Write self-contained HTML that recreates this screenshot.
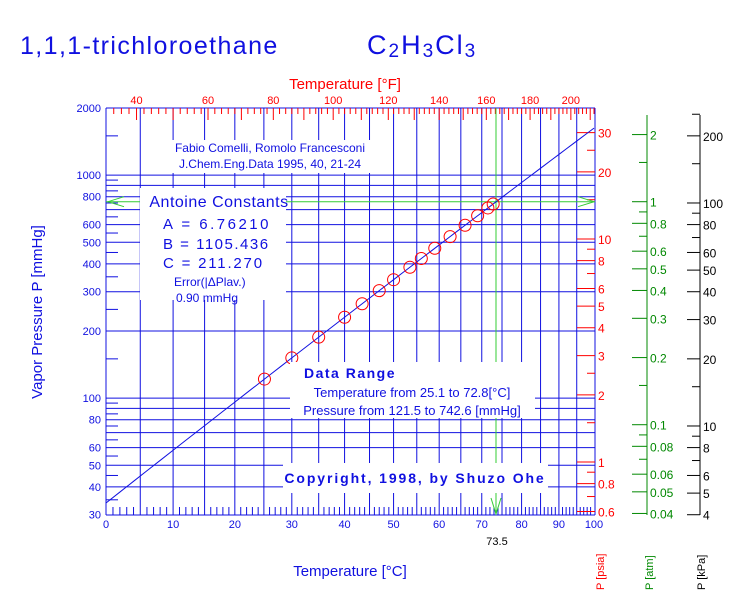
<!DOCTYPE html>
<html><head><meta charset="utf-8"><style>
body{margin:0;background:#fff}
svg{display:block;font-family:"Liberation Sans",sans-serif}
</style></head><body>
<svg id="s" width="744" height="615" xmlns="http://www.w3.org/2000/svg">
<g id="g"></g>
<g fill="#fff">
<rect x="165" y="140" width="210" height="33"/>
<rect x="140" y="188" width="146" height="112"/>
<rect x="290" y="362" width="245" height="56"/>
<rect x="283" y="463" width="265" height="30"/>
</g>
<g id="txt" fill="#1010e0">
<text x="20" y="54" font-size="25" letter-spacing="1.4">1,1,1-trichloroethane</text>
<text x="367" y="54" font-size="27" letter-spacing="2">C<tspan font-size="19" dy="3">2</tspan><tspan dy="-3">H</tspan><tspan font-size="19" dy="3">3</tspan><tspan dy="-3">Cl</tspan><tspan font-size="19" dy="3">3</tspan></text>
<text x="345" y="89" font-size="15" fill="#f00" text-anchor="middle">Temperature [°F]</text>
<text transform="translate(42,312) rotate(-90)" font-size="15" text-anchor="middle">Vapor Pressure  P [mmHg]</text>
<text x="350" y="576" font-size="15" text-anchor="middle">Temperature [°C]</text>
<text transform="translate(604,590) rotate(-90)" font-size="11" fill="#f00">P [psia]</text>
<text transform="translate(653,590) rotate(-90)" font-size="11" fill="#080">P [atm]</text>
<text transform="translate(705,590) rotate(-90)" font-size="11" fill="#000">P [kPa]</text>
<text x="497" y="545" font-size="11" fill="#000" text-anchor="middle">73.5</text>
<text x="270" y="152" font-size="12" text-anchor="middle">Fabio Comelli, Romolo Francesconi</text>
<text x="270" y="168" font-size="12" text-anchor="middle">J.Chem.Eng.Data 1995, 40, 21-24</text>
<text x="219" y="207" font-size="16" text-anchor="middle" letter-spacing="0.5">Antoine Constants</text>
<text x="163" y="229" font-size="15" letter-spacing="2.5">A =  6.76210</text>
<text x="163" y="249" font-size="15" letter-spacing="1.5">B = 1105.436</text>
<text x="163" y="268" font-size="15" letter-spacing="1.8">C = 211.270</text>
<text x="174" y="286" font-size="12">Error(|ΔPlav.)</text>
<text x="176" y="302" font-size="12">0.90 mmHg</text>
<text x="350" y="378" font-size="14" text-anchor="middle" font-weight="bold" letter-spacing="1.5">Data Range</text>
<text x="412" y="397" font-size="13" text-anchor="middle">Temperature from 25.1 to 72.8[°C]</text>
<text x="412" y="415" font-size="13" text-anchor="middle">Pressure from 121.5 to 742.6 [mmHg]</text>
<text x="415" y="483" font-size="14" text-anchor="middle" font-weight="bold" letter-spacing="1.9">Copyright, 1998, by Shuzo Ohe</text>
</g>
</svg>
<script>
var NS="http://www.w3.org/2000/svg",g=document.getElementById('g');
function X(T){return 106+488*(1/230-1/(T+230))/(1/230-1/330);}
function Y(P){return 108+(3.30103-Math.log10(P))*223;}
function el(p,n,a,t){var e=document.createElementNS(NS,n);for(var k in a)e.setAttribute(k,a[k]);if(t!=null)e.textContent=t;p.appendChild(e);return e;}
function L(x1,y1,x2,y2,c,w){el(g,'line',{x1:x1,y1:y1,x2:x2,y2:y2,stroke:c,'stroke-width':w||1});}
var B='#1010e0';
for(var T=5;T<100;T+=5)L(X(T),108,X(T),515,B);
[40,50,60,70,80,90,100,200,300,400,500,600,700,800,900,1000].forEach(function(P){L(106,Y(P),595,Y(P),B);});
L(106,108,595,108,B);L(106,515,595,515,B);L(106,108,106,515,B);L(595,108,595,515,B);
for(var T=1;T<100;T++)if(T%5)L(X(T),515,X(T),507,B);
[35,45,55,65,75,85,95,150,250,350,450,550,650,750,850,950,1500].forEach(function(P){L(106,Y(P),118,Y(P),B);});
[[30,'30'],[40,'40'],[50,'50'],[60,'60'],[80,'80'],[100,'100'],[200,'200'],[300,'300'],[400,'400'],[500,'500'],[600,'600'],[800,'800'],[1000,'1000'],[2000,'2000']].forEach(function(a){el(g,'text',{x:101,y:Y(a[0])+4,'font-size':11,fill:B,'text-anchor':'end'},a[1]);});
for(var T=0;T<=100;T+=10)el(g,'text',{x:X(T),y:528,'font-size':11,fill:B,'text-anchor':'middle'},''+T);
for(var F=34;F<=212;F+=2){var x=X((F-32)/1.8);if(x>595)break;L(x,108,x,F%10==0?120:114,'#f00');}
for(var F=40;F<=200;F+=20)el(g,'text',{x:X((F-32)/1.8),y:104,'font-size':11,fill:'#f00','text-anchor':'middle'},''+F);
var k=760/14.696;
[30,20,10,8,6,5,4,3,2,1,0.8,0.6].forEach(function(p){L(577,Y(p*k),595,Y(p*k),'#f00');el(g,'text',{x:598,y:Y(p*k)+5,'font-size':12,fill:'#f00'},''+p);});
[25,15,9,7,2.5,1.5,0.9,0.7].forEach(function(p){L(587,Y(p*k),595,Y(p*k),'#f00');});
L(647,115,647,515,'#080');
[2,1,0.8,0.6,0.5,0.4,0.3,0.2,0.1,0.08,0.06,0.05,0.04].forEach(function(p){L(632,Y(p*760),647,Y(p*760),'#080');el(g,'text',{x:650,y:Y(p*760)+5,'font-size':12,fill:'#080'},''+p);});
[1.5,0.9,0.7,0.15,0.09,0.07].forEach(function(p){L(639,Y(p*760),647,Y(p*760),'#080');});
L(700,115,700,515,'#000');
var q=760/101.325;
[200,100,80,60,50,40,30,20,10,8,6,5,4].forEach(function(p){L(687,Y(p*q),700,Y(p*q),'#000');el(g,'text',{x:703,y:Y(p*q)+5,'font-size':12,fill:'#000'},''+p);});
[250,150,90,70,15,9,7].forEach(function(p){L(692,Y(p*q),700,Y(p*q),'#000');});
var gx=X(73.5),gy=Y(760);
L(gx,108,gx,515,'#3c3');L(106,gy,595,gy,'#3c3');
el(g,'polyline',{points:'124,'+(gy-5)+' 108,'+gy+' 124,'+(gy+5),fill:'none',stroke:'#3c3'});
el(g,'polyline',{points:'578,'+(gy-5)+' 594,'+gy+' 578,'+(gy+5),fill:'none',stroke:'#3c3'});
el(g,'polyline',{points:(gx-5)+',498 '+gx+',514 '+(gx+5)+',498',fill:'none',stroke:'#3c3'});
var pts=[];for(var T=0;T<=100;T+=2){var P=Math.pow(10,6.7621-1105.436/(T+211.27));var y=Y(P);if(y<108)break;pts.push(X(T)+','+y);}
el(g,'polyline',{points:pts.join(' '),fill:'none',stroke:B});
[25.1,30,35,40,43.5,47,50,53.5,56,59,62.5,66,69,71.5,72.8].forEach(function(T){var P=Math.pow(10,6.7621-1105.436/(T+211.27));el(g,'circle',{cx:X(T),cy:Y(P),r:6,fill:'none',stroke:'#f00'});});
</script>
</body></html>
